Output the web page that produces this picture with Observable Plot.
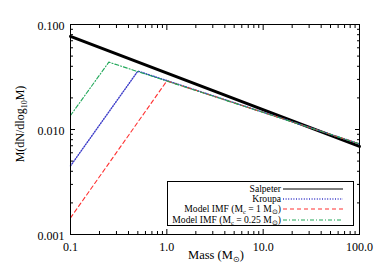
<!DOCTYPE html>
<html>
<head>
<meta charset="utf-8">
<script src="https://cdn.jsdelivr.net/npm/d3@7"></script>
<script src="https://cdn.jsdelivr.net/npm/@observablehq/plot@0.6"></script>
<style>
  html, body { margin: 0; padding: 0; background: #fff; }
  #wrap { position: relative; width: 380px; height: 280px; font-family: "Liberation Serif", "Times New Roman", serif; }
  #legend { position: absolute; left: 167px; top: 181px; width: 187px; height: 45px; box-sizing: border-box; border: 1px solid #000; background: #fff; font-size: 9.6px; color: #000; font-family: "Liberation Serif", serif; }
  .row { position: absolute; left: 0; width: 113px; text-align: right; line-height: 8px; height: 8px; white-space: nowrap; }
  .row sub { font-size: 6.5px; vertical-align: -1.5px; line-height: 0; }
  .swatch { position: absolute; left: 115px; }
</style>
</head>
<body>
<div id="wrap"></div>
<script>
// ---- data ----
const salpeterMass = [0.1, 100];
const salpeterVal  = [0.077, 0.0069];
const kroupaMass   = [0.1, 0.5, 100];
const kroupaVal    = [0.0045, 0.036, 0.0073];
const model1Mass   = [0.1, 1.0, 100];
const model1Val    = [0.00144, 0.029, 0.0073];
const model025Mass = [0.1, 0.25, 100];
const model025Val  = [0.0136, 0.0438, 0.0073];

const seriesNames = ["Salpeter", "Kroupa", "Model IMF (M_c = 1 M_⊙)", "Model IMF (M_c = 0.25 M_⊙)"];
const seriesColors = ["#000000", "#3b3bc8", "#ff3030", "#22a85a"];

const xMajor = [0.1, 1, 10, 100];
const yMajor = [0.001, 0.01, 0.1];
const minorMult = [2, 3, 4, 5, 6, 7, 8, 9];

const xMinor = [0.1, 1, 10].flatMap(d => minorMult.map(m => d * m));
const yMinor = [0.001, 0.01].flatMap(d => minorMult.map(m => d * m));

const toRows = (ms, vs) => ms.map((m, i) => ({m, v: vs[i]}));
const salpeter = toRows(salpeterMass, salpeterVal);
const kroupa = toRows(kroupaMass, kroupaVal);
const model1 = toRows(model1Mass, model1Val);
const model025 = toRows(model025Mass, model025Val);

const styles = [
  {strokeWidth: 3, strokeDasharray: null},
  {strokeWidth: 1.4, strokeDasharray: "1,1.6"},
  {strokeWidth: 1.1, strokeDasharray: "4,3"},
  {strokeWidth: 1.1, strokeDasharray: "4,2,1,2"}
];

const tickOpts = (anchor, size) => ({anchor, tickSize: size, tickFormat: () => "", label: null, strokeWidth: 1});

const chart = Plot.plot({
  width: 380,
  height: 280,
  marginLeft: 70,
  marginRight: 21,
  marginTop: 24,
  marginBottom: 46,
  style: {fontFamily: "Liberation Serif, Times New Roman, serif", fontSize: "12px", background: "#fff", color: "#000", overflow: "visible"},
  x: {type: "log", domain: [0.1, 100]},
  y: {type: "log", domain: [0.001, 0.1]},
  marks: [
    Plot.line(salpeter, {x: "m", y: "v", stroke: seriesColors[0], ...styles[0]}),
    Plot.line(kroupa, {x: "m", y: "v", stroke: seriesColors[1], ...styles[1]}),
    Plot.line(model1, {x: "m", y: "v", stroke: seriesColors[2], ...styles[2]}),
    Plot.line(model025, {x: "m", y: "v", stroke: seriesColors[3], ...styles[3]}),
    // inward ticks on all four sides
    Plot.axisX(xMajor, tickOpts("bottom", -5)),
    Plot.axisX(xMinor, tickOpts("bottom", -3)),
    Plot.axisX(xMajor, tickOpts("top", -5)),
    Plot.axisX(xMinor, tickOpts("top", -3)),
    Plot.axisY(yMajor, tickOpts("left", -5)),
    Plot.axisY(yMinor, tickOpts("left", -3)),
    Plot.axisY(yMajor, tickOpts("right", -5)),
    Plot.axisY(yMinor, tickOpts("right", -3)),
    // tick labels
    Plot.axisX(xMajor, {anchor: "bottom", tickSize: 0, tickPadding: 8, tickFormat: d => d.toFixed(1), label: null, fontSize: 12}),
    Plot.axisY(yMajor, {anchor: "left", tickSize: 0, tickPadding: 6, tickFormat: d => d.toFixed(3), label: null, fontSize: 12, dy: 2}),
    Plot.frame({stroke: "#000", strokeWidth: 1})
  ]
});

const wrap = document.getElementById("wrap");
wrap.appendChild(chart);

// axis titles with subscripts
const svg = d3.select(chart);
const xt = svg.append("text")
  .attr("x", 216).attr("y", 259)
  .attr("text-anchor", "middle")
  .attr("font-size", 12.5)
  .attr("fill", "#000");
xt.append("tspan").text("Mass (M");
xt.append("tspan").attr("font-size", 8).attr("dy", 3).text("⊙");
xt.append("tspan").attr("dy", -3).text(")");

const yt = svg.append("text")
  .attr("transform", "translate(24,124) rotate(-90)")
  .attr("text-anchor", "middle")
  .attr("font-size", 12)
  .attr("fill", "#000");
yt.append("tspan").text("M(dN/dlog");
yt.append("tspan").attr("font-size", 8).attr("dy", 3).text("10");
yt.append("tspan").attr("dy", -3).text("M)");

// legend
const legend = document.createElement("div");
legend.id = "legend";
const rowCenters = [7, 16.5, 27, 38];
const labelHtml = s => s.replace(/_([^\s)]+)/g, "<sub>$1</sub>");
seriesNames.forEach((name, i) => {
  const row = document.createElement("div");
  row.className = "row";
  row.style.top = (rowCenters[i] - 4) + "px";
  row.innerHTML = labelHtml(name);
  legend.appendChild(row);
  const sw = d3.create("svg").attr("class", "swatch").attr("width", 62).attr("height", 6)
    .style("top", (rowCenters[i] - 3) + "px");
  sw.append("line").attr("x1", 0).attr("x2", 60).attr("y1", 3).attr("y2", 3)
    .attr("stroke", seriesColors[i])
    .attr("stroke-width", i === 0 ? 1.2 : styles[i].strokeWidth)
    .attr("stroke-dasharray", styles[i].strokeDasharray);
  legend.appendChild(sw.node());
});
wrap.appendChild(legend);
</script>
</body>
</html>
